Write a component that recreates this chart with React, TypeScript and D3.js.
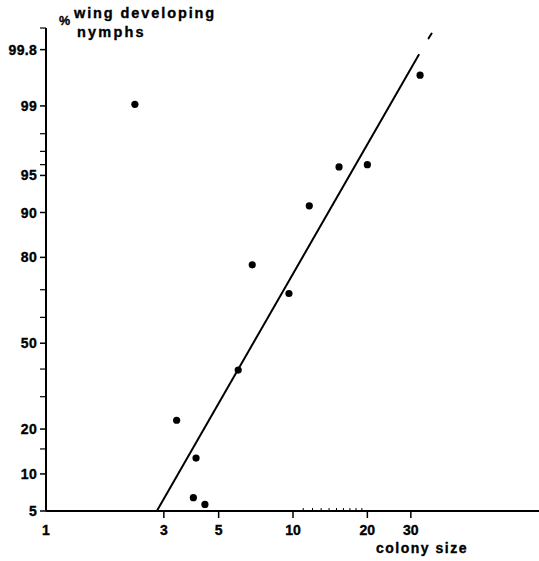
import React from "react";
import * as d3 from "d3";

// Colony size (x) against % wing-developing nymphs (y, probit scale)
const colonySizes = [2.29, 3.38, 4.05, 3.95, 4.4, 6.0, 6.84, 9.63, 11.64, 15.36, 20.0, 32.7];
const wingPercents = [99.04, 22.5, 13, 6.5, 5.7, 39.6, 77.9, 68.7, 91.1, 95.8, 96.0, 99.57];

// Fitted probit line (endpoints) and its short dashed continuation
const fitSizes = [2.81, 32.4];
const fitPercents = [5, 99.77];
const dashSizes = [35.4, 36.4];
const dashPercents = [99.86, 99.88];

// Axis ticks
const xTickValues = [3, 5, 10, 20, 30];
const xTickLabels = ["1", "3", "5", "10", "20", "30"];
const xLabelValues = [1, 3, 5, 10, 20, 30];
const xMinorValues = [11, 12, 13, 14, 15, 16, 17, 18, 19];
const yMajorValues = [5, 10, 20, 50, 80, 90, 95, 99, 99.8];
const yMajorLabels = ["5", "10", "20", "50", "80", "90", "95", "99", "99.8"];
const yMinorValues = [15, 30, 40, 60, 70, 96, 97, 98, 99.9];

// Inverse standard normal CDF (Acklam's rational approximation)
function probit(p: number): number {
  const a = [-3.969683028665376e1, 2.209460984245205e2, -2.759285104469687e2, 1.38357751867269e2, -3.066479806614716e1, 2.506628277459239];
  const b = [-5.447609879822406e1, 1.615858368580409e2, -1.556989798598866e2, 6.680131188771972e1, -1.328068155288572e1];
  const c = [-7.784894002430293e-3, -3.223964580411365e-1, -2.400758277161838, -2.549732539343734, 4.374664141464968, 2.938163982698783];
  const d = [7.784695709041462e-3, 3.224671290700398e-1, 2.445134137142996, 3.754408661907416];
  const pl = 0.02425;
  if (p < pl) {
    const q = Math.sqrt(-2 * Math.log(p));
    return (((((c[0] * q + c[1]) * q + c[2]) * q + c[3]) * q + c[4]) * q + c[5]) / ((((d[0] * q + d[1]) * q + d[2]) * q + d[3]) * q + 1);
  }
  if (p > 1 - pl) {
    const q = Math.sqrt(-2 * Math.log(1 - p));
    return -(((((c[0] * q + c[1]) * q + c[2]) * q + c[3]) * q + c[4]) * q + c[5]) / ((((d[0] * q + d[1]) * q + d[2]) * q + d[3]) * q + 1);
  }
  const q = p - 0.5;
  const r = q * q;
  return ((((((a[0] * r + a[1]) * r + a[2]) * r + a[3]) * r + a[4]) * r + a[5]) * q) / (((((b[0] * r + b[1]) * r + b[2]) * r + b[3]) * r + b[4]) * r + 1);
}

const W = 539;
const H = 561;
const FONT = "'Liberation Sans', Arial, sans-serif";

export default function App() {
  const x = d3.scaleLog().domain([1, 100]).range([46, 540]);
  const z = d3.scaleLinear().domain([probit(0.05), probit(0.999)]).range([511, 28]);
  const y = (pct: number) => z(probit(pct / 100));

  const axisY = y(5);
  const axisX = x(1);

  const line = d3
    .line<[number, number]>()
    .x((d) => x(d[0]))
    .y((d) => y(d[1]));

  const fitPts = fitSizes.map((s, i) => [s, fitPercents[i]] as [number, number]);
  const dashPts = dashSizes.map((s, i) => [s, dashPercents[i]] as [number, number]);

  return (
    <svg
      width={W}
      height={H}
      viewBox={`0 0 ${W} ${H}`}
      style={{ position: "absolute", left: 0, top: 0, background: "#fff" }}
      fontFamily={FONT}
      fontWeight="bold"
    >
      <rect width={W} height={H} fill="#fff" />

      <g stroke="#000" strokeWidth={0.35}>
        {/* y axis labels */}
        {yMajorValues.map((v, i) => (
          <text key={`yl${v}`} x={axisX - 9} y={y(v)} dy="0.36em" textAnchor="end" fontSize={14} letterSpacing={0.3}>
            {yMajorLabels[i]}
          </text>
        ))}
        {/* x axis labels */}
        {xLabelValues.map((v, i) => (
          <text key={`xl${v}`} x={x(v)} y={535} textAnchor="middle" fontSize={14}>
            {xTickLabels[i]}
          </text>
        ))}
        <text x={376} y={553} fontSize={14} letterSpacing={1.5}>
          colony size
        </text>

        {/* y title */}
        <text x={59} y={25} fontSize={12.5}>
          %
        </text>
        <text x={74} y={18} fontSize={14.5} letterSpacing={1.9}>
          wing developing
        </text>
        <text x={77} y={37} fontSize={14.5} letterSpacing={2.2}>
          nymphs
        </text>
      </g>

      {/* y axis */}
      <line x1={axisX} x2={axisX} y1={y(99.9)} y2={axisY} stroke="#000" strokeWidth={2} />
      {yMajorValues.map((v) => (
        <line key={`ym${v}`} x1={axisX - 6} x2={axisX} y1={y(v)} y2={y(v)} stroke="#000" strokeWidth={1.5} />
      ))}
      {yMinorValues.map((v) => (
        <line key={`yn${v}`} x1={axisX - 6} x2={axisX} y1={y(v)} y2={y(v)} stroke="#000" strokeWidth={1.2} />
      ))}

      {/* x axis */}
      <line x1={axisX} x2={W} y1={axisY} y2={axisY} stroke="#000" strokeWidth={2} />
      {xTickValues.map((v) => (
        <line key={`xt${v}`} x1={x(v)} x2={x(v)} y1={axisY} y2={axisY + 7} stroke="#000" strokeWidth={1.5} />
      ))}
      {xMinorValues.map((v) => (
        <line key={`xn${v}`} x1={x(v)} x2={x(v)} y1={axisY - 3} y2={axisY} stroke="#000" strokeWidth={1} />
      ))}

      {/* fitted line */}
      <path d={line(fitPts) ?? ""} fill="none" stroke="#000" strokeWidth={2} />
      <path d={line(dashPts) ?? ""} fill="none" stroke="#000" strokeWidth={2} strokeLinecap="round" />

      {/* observations */}
      {colonySizes.map((s, i) => (
        <circle key={`p${i}`} cx={x(s)} cy={y(wingPercents[i])} r={3.6} fill="#000" />
      ))}
    </svg>
  );
}
